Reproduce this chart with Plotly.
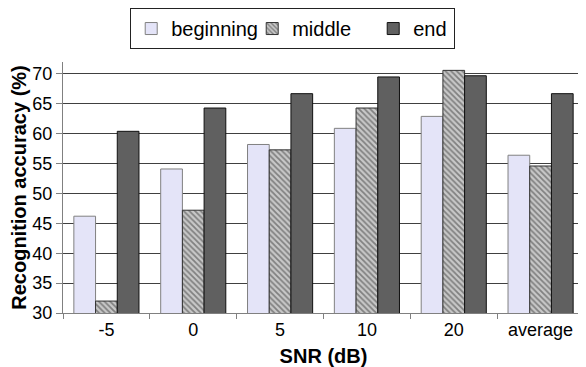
import plotly.graph_objects as go

categories = ["-5", "0", "5", "10", "20", "average"]
beginning = [46.2, 54.1, 58.2, 60.9, 62.9, 56.4]
middle = [32.0, 47.2, 57.3, 64.3, 70.6, 54.6]
end = [60.4, 64.3, 66.7, 69.5, 69.7, 66.7]
y_ticks = [30, 35, 40, 45, 50, 55, 60, 65, 70]

FONT = "Liberation Sans, Arial, sans-serif"

# page body has an 8px default margin, so the figure is drawn 8px smaller
fig = go.Figure()
fig.add_trace(go.Bar(
    x=categories, y=beginning, name="beginning",
    marker=dict(color="#E4E4F8", line=dict(color="#808080", width=1)),
))
fig.add_trace(go.Bar(
    x=categories, y=middle, name="middle",
    marker=dict(color="#C0C0C0", line=dict(color="#333333", width=1),
                pattern=dict(shape="\\", fgcolor="#383838", bgcolor="#C8C8C8",
                             size=4, solidity=0.45)),
))
fig.add_trace(go.Bar(
    x=categories, y=end, name="end", legendwidth=36,
    marker=dict(color="#606060", line=dict(color="#111111", width=1)),
))

fig.update_layout(
    width=578, height=359,
    margin=dict(l=55, r=2, t=54, b=54, autoexpand=False),
    paper_bgcolor="white", plot_bgcolor="white",
    font=dict(family=FONT, size=18, color="black"),
    barmode="group", bargap=0.25, bargroupgap=0,
    showlegend=True,
    legend=dict(
        orientation="h", x=0.129, y=1.215, xanchor="left", yanchor="top",
        bordercolor="#222222", borderwidth=1, bgcolor="white",
        font=dict(family=FONT, size=20, color="black"),
        entrywidth=76, entrywidthmode="pixels",
        traceorder="normal", itemclick=False,
    ),
    xaxis=dict(
        type="category", automargin=False,
        showline=True, linecolor="#808080", linewidth=1,
        ticks="outside", tickson="boundaries", ticklen=5, tickcolor="#808080",
        showgrid=False,
        tickfont=dict(family=FONT, size=18, color="black"),
        title=dict(text="<b>SNR (dB)</b>", font=dict(family=FONT, size=20, color="black"),
                   standoff=11),
    ),
    yaxis=dict(
        range=[30, 72], tickvals=y_ticks, automargin=False,
        showline=True, linecolor="#808080", linewidth=1,
        ticks="outside", ticklen=6, tickcolor="#808080",
        showgrid=True, gridcolor="#404040", gridwidth=1,
        zeroline=False,
        tickfont=dict(family=FONT, size=18, color="black"),
        title=dict(text="<b>Recognition accuracy (%)</b>",
                   font=dict(family=FONT, size=20, color="black"), standoff=0),
    ),
)

fig.write_html("out.html")
